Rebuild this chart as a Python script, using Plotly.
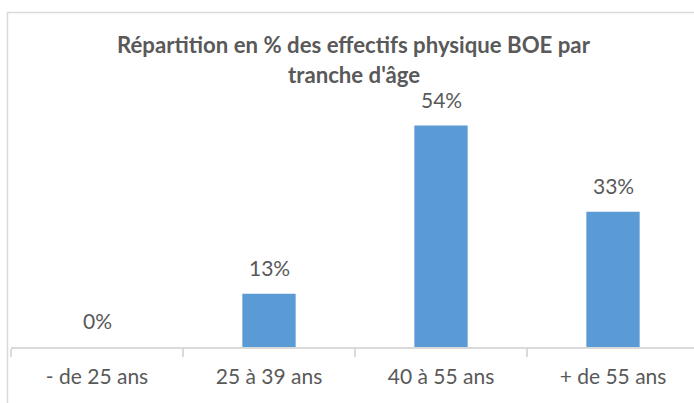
import plotly.graph_objects as go

categories = ["- de 25 ans", "25 à 39 ans", "40 à 55 ans", "+ de 55 ans"]
values = [0, 13, 54, 33]
title_lines = ["Répartition en % des effectifs physique BOE par", "tranche d'âge"]

W, H = 694, 403
L, T, B = 11, 101, 56          # plot area: x from 11, y from 101 to 347
plot_w = W - L
plot_h = H - T - B
cat_w = 172.0
FONT = "Lato"
GREY = "#595959"

fig = go.Figure()
fig.add_trace(go.Bar(
    x=categories, y=values,
    marker=dict(color="#5B9BD5", line=dict(width=0)),
    width=0.31,
    hoverinfo="skip",
))

# data labels
for c, v in zip(categories, values):
    fig.add_annotation(
        x=c, y=v, xref="x", yref="y", text=f"{v}%",
        showarrow=False, xanchor="center", yanchor="bottom", yshift=12,
        font=dict(family=FONT, size=21, color=GREY),
    )

fig.update_layout(
    width=W, height=H,
    margin=dict(l=L, r=0, t=T, b=B, pad=0),
    paper_bgcolor="white", plot_bgcolor="white",
    showlegend=False,
    xaxis=dict(
        type="category",
        range=[-0.5, -0.5 + plot_w / cat_w],
        showline=True, linecolor="#d9d9d9", linewidth=1.5,
        ticks="outside", tickson="boundaries", ticklen=8, tickcolor="#d9d9d9", tickwidth=1.5,
        tickfont=dict(family=FONT, size=21, color=GREY),
        ticklabelstandoff=10,
        showgrid=False, zeroline=False,
    ),
    yaxis=dict(range=[0, 60], visible=False, showgrid=False, zeroline=False),
    shapes=[dict(
        type="rect", xref="paper", yref="paper",
        x0=(7.5 - L) / plot_w, x1=1.05,
        y0=-0.5, y1=(H - B - 12.5) / plot_h,
        line=dict(color="#d9d9d9", width=1.5), fillcolor="rgba(0,0,0,0)", layer="below",
    )],
)

TS = 22.2
for line, base in zip(title_lines, [54, 84]):
    bottom = base + 0.213 * TS + 1
    fig.add_annotation(
        text=f"<b>{line}</b>", xref="paper", yref="paper",
        x=(354 - L) / plot_w, y=(H - B - bottom) / plot_h,
        xanchor="center", yanchor="bottom", showarrow=False,
        font=dict(family=FONT, size=TS, color=GREY),
    )

fig.write_html("out.html", config={"displayModeBar": False},
               post_script="document.body.style.margin='0px';")
